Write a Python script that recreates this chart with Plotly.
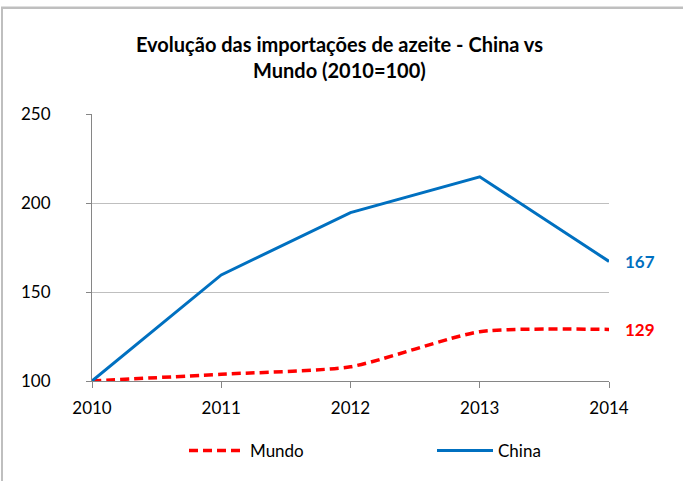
import plotly.graph_objects as go

years = [2010, 2011, 2012, 2013, 2014]
mundo = [100, 103.8, 108.0, 127.7, 129.0]
china = [100, 159.6, 194.6, 214.7, 167.2]
y_ticks = [100, 150, 200, 250]
end_labels = {"China": "167", "Mundo": "129"}

BLUE = "#0070C0"
RED = "#FF0000"
FONT = "Lato, 'Open Sans', sans-serif"

fig = go.Figure()
fig.add_trace(go.Scatter(
    x=years, y=mundo, name="Mundo", mode="lines", legend="legend",
    line=dict(color=RED, width=3.5, dash="9px,5px", shape="spline", smoothing=0.6),
    cliponaxis=False,
))
fig.add_trace(go.Scatter(
    x=years, y=china, name="China", mode="lines", legend="legend2",
    line=dict(color=BLUE, width=3),
    cliponaxis=False,
))

fig.add_annotation(x=years[-1], y=china[-1], text="<b>%s</b>" % end_labels["China"],
                   showarrow=False, xanchor="left", xshift=14,
                   font=dict(color=BLUE, size=17, family=FONT))
fig.add_annotation(x=years[-1], y=mundo[-1], text="<b>%s</b>" % end_labels["Mundo"],
                   showarrow=False, xanchor="left", xshift=14,
                   font=dict(color=RED, size=17, family=FONT))

L, R, T, B = 92, 74, 114, 100
W, H = 683, 481
pw, ph = W - L - R, H - T - B

def px(xp):
    return (xp - L) / pw

def py(yp):
    return (H - B - yp) / ph

# chart-area frame (left and top edges visible)
fig.add_shape(type="line", xref="paper", yref="paper",
              x0=px(2), x1=px(2), y0=py(490), y1=py(7),
              line=dict(color="#BFBFBF", width=2), layer="above")
fig.add_shape(type="rect", xref="paper", yref="paper",
              x0=px(1), x1=px(683), y0=py(9), y1=py(6.5),
              line=dict(width=0), fillcolor="#BFBFBF", layer="above")

legend_common = dict(orientation="h", xanchor="left", y=py(451), yanchor="middle",
                     itemwidth=56, font=dict(size=17, family=FONT),
                     bgcolor="rgba(0,0,0,0)")

fig.update_layout(
    width=W, height=H,
    margin=dict(l=L, r=R, t=T, b=B, autoexpand=False),
    paper_bgcolor="white", plot_bgcolor="white",
    font=dict(family=FONT, size=17, color="black"),
    title=dict(text="<b>Evolução das importações de azeite - China vs<br>Mundo (2010=100)</b>",
               x=0.497, xref="container", xanchor="center",
               y=1 - 52 / H, yref="container", yanchor="top",
               font=dict(size=20, family=FONT, color="black")),
    showlegend=True,
    legend=dict(x=px(184), **legend_common),
    legend2=dict(x=px(432), **legend_common),
    xaxis=dict(range=[2010, 2014], tickvals=years, ticktext=[str(y) for y in years],
               showgrid=False, zeroline=False, showline=True, linecolor="#868686", linewidth=1,
               ticks="outside", ticklen=6, tickcolor="#868686", fixedrange=True,
               ticklabelstandoff=6),
    yaxis=dict(range=[100, 250], tickvals=y_ticks, showgrid=True, gridcolor="#BFBFBF",
               gridwidth=1, zeroline=False, showline=True, linecolor="#868686", linewidth=1,
               ticks="outside", ticklen=5, tickcolor="#868686", fixedrange=True,
               ticklabelstandoff=32),
)

fig.write_html("out.html", config={"displayModeBar": False},
               post_script="document.body.style.margin='0';")
